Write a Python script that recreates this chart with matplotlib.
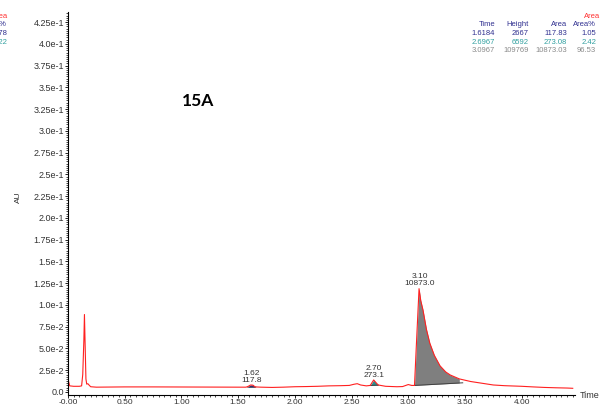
import numpy as np
import matplotlib
matplotlib.use("Agg")
import matplotlib.pyplot as plt

# trace (time in min, AU)
times = [0.000, 0.005, 0.015, 0.05, 0.10, 0.12, 0.13, 0.14, 0.145, 0.150, 0.158,
         0.165, 0.175, 0.185, 0.20, 0.25, 0.50, 0.75, 1.00, 1.25, 1.50, 1.57,
         1.59, 1.61, 1.63, 1.65, 1.70, 1.80, 1.90, 2.00, 2.10, 2.20, 2.30, 2.40,
         2.48, 2.52, 2.55, 2.58, 2.63, 2.665, 2.695, 2.72, 2.735, 2.80, 2.90,
         2.95, 3.00, 3.03, 3.055, 3.07, 3.095, 3.11, 3.13, 3.16, 3.19, 3.23,
         3.28, 3.33, 3.37, 3.45, 3.55, 3.65, 3.75, 3.85, 4.00, 4.10, 4.20,
         4.30, 4.40, 4.45]
signal = [0.018, 0.012, 0.007, 0.0065, 0.0065, 0.007, 0.020, 0.060, 0.089, 0.060, 0.015,
          0.009, 0.0095, 0.008, 0.006, 0.0055, 0.0058, 0.0058, 0.0057, 0.0056, 0.0055, 0.0055,
          0.0065, 0.0080, 0.0078, 0.0058, 0.0055, 0.0052, 0.0055, 0.0060, 0.0062, 0.0065, 0.0070, 0.0072,
          0.0075, 0.0088, 0.0095, 0.0080, 0.0070, 0.0075, 0.0138, 0.0100, 0.0080, 0.0065, 0.0060,
          0.0062, 0.0085, 0.0075, 0.0075, 0.050, 0.1187, 0.105, 0.094, 0.072, 0.056, 0.042,
          0.030, 0.023, 0.0195, 0.015, 0.012, 0.010, 0.008, 0.0072, 0.0065, 0.0058, 0.0052,
          0.0048, 0.0045, 0.0042]

# integrated peaks: start, end, baseline at start/end, colour
peak_rt = [1.62, 2.70, 3.10]
peak_area = [117.8, 273.1, 10873.0]
peak_start = [1.585, 2.665, 3.055]
peak_end = [1.655, 2.735, 3.48]
base_start = [0.0055, 0.0075, 0.0075]
base_end = [0.0056, 0.0078, 0.0105]
peak_colors = ["#2b2b8c", "#2a9090", "#7f7f7f"]

# results table
tab_cols = ["Time", "Height", "Area", "Area%"]
tab_rows = [["1.6184", "2667", "117.83", "1.05"],
            ["2.6967", "6592", "273.08", "2.42"],
            ["3.0967", "109769", "10873.03", "96.53"]]
row_colors = ["#303090", "#30a0a0", "#8a8a8a"]

ytick_vals = [0, 0.025, 0.05, 0.075, 0.1, 0.125, 0.15, 0.175, 0.2, 0.225,
              0.25, 0.275, 0.3, 0.325, 0.35, 0.375, 0.4, 0.425]
ytick_labels = ["0.0", "2.5e-2", "5.0e-2", "7.5e-2", "1.0e-1", "1.25e-1", "1.5e-1",
                "1.75e-1", "2.0e-1", "2.25e-1", "2.5e-1", "2.75e-1", "3.0e-1",
                "3.25e-1", "3.5e-1", "3.75e-1", "4.0e-1", "4.25e-1"]
xtick_vals = [0, 0.5, 1.0, 1.5, 2.0, 2.5, 3.0, 3.5, 4.0]
xtick_labels = ["-0.00", "0.50", "1.00", "1.50", "2.00", "2.50", "3.00", "3.50", "4.00"]

plt.rcParams['font.family'] = ['Liberation Sans', 'DejaVu Sans']

fig = plt.figure(figsize=(6.02, 4.07), dpi=100)
ax = fig.add_axes([68 / 602, 12 / 407, 507 / 602, 383 / 407])

t = np.array(times)
s = np.array(signal)

for i in range(len(peak_rt)):
    m = (t >= peak_start[i]) & (t <= peak_end[i])
    tt = t[m]
    bl = np.interp(tt, [peak_start[i], peak_end[i]], [base_start[i], base_end[i]])
    ax.fill_between(tt, bl, s[m], color=peak_colors[i], lw=0)
    ax.plot([peak_start[i], peak_end[i]], [base_start[i], base_end[i]],
            color="#404040", lw=0.7)

ax.plot(t, s, color="#ff2020", lw=0.8)

for i in range(len(peak_rt)):
    top = s[(t >= peak_start[i]) & (t <= peak_end[i])].max()
    ax.annotate(f"{peak_rt[i]:.2f}\n{peak_area[i]:.1f}", xy=(peak_rt[i], top),
                xytext=(0, 1), textcoords="offset points", ha="center", va="bottom",
                fontsize=6, color="#333333", linespacing=1.0)

ax.set_xlim(0, 4.47)
ax.set_ylim(-0.0035, 0.4366)
ax.set_xticks(xtick_vals, xtick_labels)
ax.set_yticks(ytick_vals, ytick_labels)
ax.set_xticks(np.arange(0, 4.46, 0.05), minor=True)
ax.set_yticks(np.arange(0, 0.436, 0.0025), minor=True)
ax.tick_params(axis="both", which="major", length=2.5, width=0.6, pad=0.5,
               labelcolor="#333333")
ax.tick_params(axis="x", which="major", labelsize=6)
ax.tick_params(axis="y", which="major", labelsize=6.5)
ax.tick_params(axis="both", which="minor", length=1.6, width=0.5)
for side in ["top", "right"]:
    ax.spines[side].set_visible(False)
for side in ["left", "bottom"]:
    ax.spines[side].set_linewidth(0.8)

fig.text(590 / 602, 1 - 395 / 407, "Time", fontsize=6.5, color="#333333",
         ha="center", va="center")
fig.text(18 / 602, 1 - 197 / 407, "AU", fontsize=6, color="#333333",
         ha="center", va="center", rotation=90)
fig.text(198 / 602, 1 - 101 / 407, "15A", fontsize=12.5, fontweight="bold",
         family="Lato", ha="center", va="center")

# results table, right aligned columns
col_right = [495, 529, 567, 596]
fig.text(600 / 602, 1 - 17 / 407, "Area", fontsize=5.5, color="#ff3030",
         ha="right", va="center")
for j, c in enumerate(tab_cols):
    fig.text(col_right[j] / 602, 1 - 25 / 407, c, fontsize=5.5, color="#303090",
             ha="right", va="center")
for i, row in enumerate(tab_rows):
    for j, v in enumerate(row):
        fig.text(col_right[j] / 602, 1 - (33.5 + 8.7 * i) / 407, v, fontsize=5.5,
                 color=row_colors[i], ha="right", va="center")

# clipped remains of the neighbouring table on the left edge
fig.text(8 / 602, 1 - 17 / 407, "Area", fontsize=5.5, color="#ff3030", ha="right", va="center")
fig.text(7 / 602, 1 - 25 / 407, "Area%", fontsize=5.5, color="#303090", ha="right", va="center")
fig.text(7 / 602, 1 - 33.5 / 407, "2.78", fontsize=5.5, color="#303090", ha="right", va="center")
fig.text(7 / 602, 1 - 42.2 / 407, "1.22", fontsize=5.5, color="#30a0a0", ha="right", va="center")

fig.savefig("out.png", dpi=100)
